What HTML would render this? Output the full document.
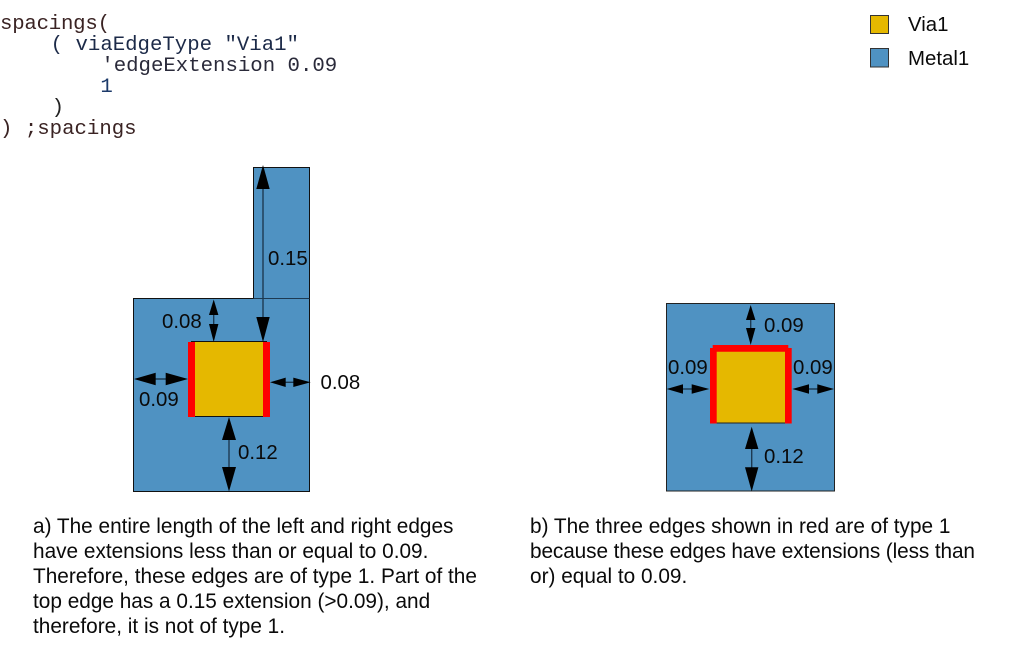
<!DOCTYPE html>
<html>
<head>
<meta charset="utf-8">
<style>
html,body{margin:0;padding:0;background:#fff;width:1013px;height:657px;overflow:hidden}
svg{display:block}
text{font-family:"Liberation Sans",sans-serif;font-size:20.4px;fill:#0a0a0a}
.cap{font-size:20.8px}
.c{font-family:"Liberation Mono",monospace;font-size:20.7px;fill:#222}
</style>
</head>
<body>
<svg width="1013" height="657" viewBox="0 0 1013 657" xmlns="http://www.w3.org/2000/svg">
<!-- code -->
<text class="c" x="0" y="29" xml:space="preserve" textLength="110" style="white-space:pre;fill:#3a2323">spacings(</text>
<text class="c" x="1" y="50" xml:space="preserve" style="white-space:pre;fill:#1c2a48">    ( viaEdgeType "Via1"</text>
<text class="c" x="2" y="71" xml:space="preserve" style="white-space:pre;fill:#2a2a3a">        'edgeExtension 0.09</text>
<text class="c" x="1" y="92" xml:space="preserve" style="white-space:pre;fill:#1c3a6a">        1</text>
<text class="c" x="2" y="113" xml:space="preserve" style="white-space:pre;fill:#222">    )</text>
<text class="c" x="0" y="134" xml:space="preserve" style="white-space:pre;fill:#3a2323">) ;spacings</text>

<!-- legend -->
<rect x="870.5" y="15.5" width="18" height="18" fill="#e5b800" stroke="#333" stroke-width="1"/>
<rect x="870.5" y="48.5" width="18" height="18.5" fill="#4f92c2" stroke="#333" stroke-width="1"/>
<text x="908" y="31">Via1</text>
<text x="908" y="65">Metal1</text>

<!-- Diagram a -->
<path d="M133.5 298.5H253.5V167.5H309.5V491.5H133.5Z" fill="#4f92c2" stroke="#111" stroke-width="1"/>
<line x1="253.5" y1="298.5" x2="309.5" y2="298.5" stroke="#1d3a52" stroke-width="1"/>
<rect x="191" y="342" width="76" height="75" fill="#e5b800"/>
<line x1="191" y1="341.5" x2="267" y2="341.5" stroke="#111"/>
<line x1="191" y1="416.5" x2="267" y2="416.5" stroke="#111"/>
<rect x="188" y="342" width="7" height="75" fill="#ff0000"/>
<rect x="263" y="342" width="7" height="75" fill="#ff0000"/>

<g stroke="#1d3a52" stroke-width="1.4" fill="#000">
<line x1="263" y1="180" x2="263" y2="330"/>
<line x1="213.700" y1="310" x2="213.700" y2="330"/>
<line x1="150" y1="379" x2="170" y2="379"/>
<line x1="282" y1="382.300" x2="298" y2="382.300"/>
<line x1="229" y1="435" x2="229" y2="475"/>
</g>
<g fill="#000">
<polygon points="263,165 256.3,189 269.7,189"/>
<polygon points="263,342 256.3,317 269.700,317"/>
<polygon points="213.700,299.500 209,315 218.400,315"/>
<polygon points="213.700,342 209,324 218.400,324"/>
<polygon points="134,379 155.700,372.700 155.700,385.300"/>
<polygon points="188,379 165.700,372.700 165.700,385.300"/>
<polygon points="270,382.300 285.700,377.600 285.700,387"/>
<polygon points="310.700,382.300 293.300,377.600 293.300,387"/>
<polygon points="229,417 222,440 236,440"/>
<polygon points="229,491.500 222,467 236,467"/>
</g>
<text x="268" y="265">0.15</text>
<text x="162" y="328">0.08</text>
<text x="139" y="406">0.09</text>
<text x="320.500" y="389">0.08</text>
<text x="238" y="459">0.12</text>

<!-- Diagram b -->
<rect x="666.500" y="303.500" width="168" height="187.500" fill="#4f92c2" stroke="#222" stroke-width="1"/>
<rect x="716" y="350" width="71" height="73" fill="#e5b800"/>
<line x1="716" y1="423" x2="787" y2="423" stroke="#222" stroke-width="1"/>
<path d="M710 423.500V348H712.700V345H788.300V348H791.700V423.500H785V351.700H716.700V423.500Z" fill="#ff0000"/>

<g stroke="#1d3a52" stroke-width="1.4" fill="#000">
<line x1="750.700" y1="315" x2="750.700" y2="335"/>
<line x1="680" y1="389" x2="695" y2="389"/>
<line x1="805" y1="389" x2="822" y2="389"/>
<line x1="751.700" y1="445" x2="751.700" y2="475"/>
</g>
<g fill="#000">
<polygon points="750.700,305 746,320 755.400,320"/>
<polygon points="750.700,345 746,328 755.400,328"/>
<polygon points="666.700,389 683,384.300 683,393.700"/>
<polygon points="709.300,389 691.700,384.300 691.700,393.700"/>
<polygon points="792.300,389 809,384.300 809,393.700"/>
<polygon points="834,389 817.300,384.300 817.300,393.700"/>
<polygon points="751.700,426.700 745,449 758.400,449"/>
<polygon points="751.700,491.500 745,467.300 758.400,467.300"/>
</g>
<text x="764" y="332">0.09</text>
<text x="668" y="374">0.09</text>
<text x="793" y="374">0.09</text>
<text x="764" y="463">0.12</text>

<!-- captions -->
<text class="cap" x="33" y="533">a) The entire length of the left and right edges</text>
<text class="cap" x="33" y="558">have extensions less than or equal to 0.09.</text>
<text class="cap" x="33" y="583">Therefore, these edges are of type 1. Part of the</text>
<text class="cap" x="33" y="608">top edge has a 0.15 extension (&gt;0.09), and</text>
<text class="cap" x="33" y="633">therefore, it is not of type 1.</text>
<text class="cap" x="530" y="533">b) The three edges shown in red are of type 1</text>
<text class="cap" x="530" y="558" textLength="445">because these edges have extensions (less than</text>
<text class="cap" x="530" y="583">or) equal to 0.09.</text>
</svg>
</body>
</html>
